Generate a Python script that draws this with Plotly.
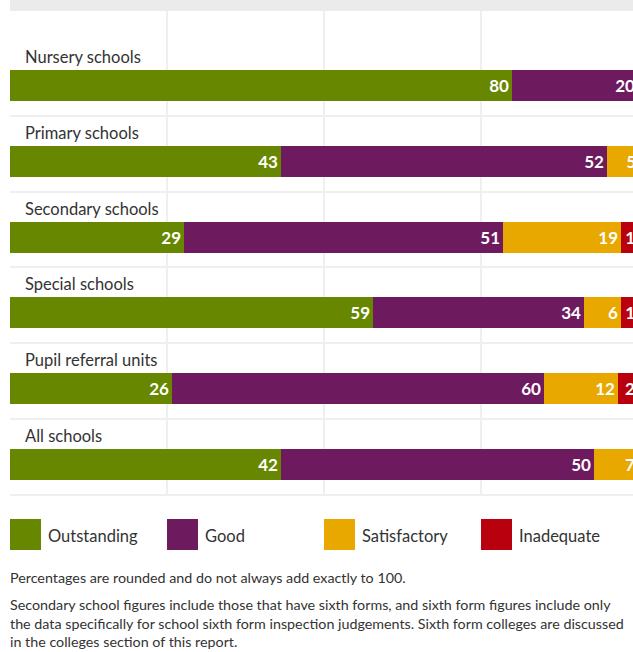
import plotly.graph_objects as go

# ---------------- data ----------------
categories = ["Nursery schools", "Primary schools", "Secondary schools",
              "Special schools", "Pupil referral units", "All schools"]
series_names = ["Outstanding", "Good", "Satisfactory", "Inadequate"]

# printed (rounded) percentages
outstanding_lbl = [80, 43, 29, 59, 26, 42]
good_lbl = [20, 52, 51, 34, 60, 50]
satisfactory_lbl = [None, 5, 19, 6, 12, 7]
inadequate_lbl = [None, None, 1, 1, 2, None]

# bar shares as drawn in the picture
outstanding_val = [80, 43.2, 27.7, 57.8, 25.8, 43.2]
good_val = [20, 51.8, 50.8, 33.6, 59.2, 49.8]
satisfactory_val = [0, 5.1, 18.8, 5.9, 11.8, 7.0]
inadequate_val = [0, 0, 2.7, 2.7, 3.2, 0]

colors = ["#678700", "#6e1a5f", "#e8a800", "#b8000e"]

footnote1 = "Percentages are rounded and do not always add exactly to 100."
footnote2 = ("Secondary school figures include those that have sixth forms, and sixth form figures include only<br>"
             "the data specifically for school sixth form inspection judgements. Sixth form colleges are discussed<br>"
             "in the colleges section of this report.")

# ---------------- layout constants ----------------
W, H = 633, 652
ML, MR, MT, MB = 10, 0, 11, 156
PW = W - ML - MR
PH = H - MT - MB
FONT = "Lato, 'Noto Sans', sans-serif"
TXT = "#333333"

def px_x(px):
    return (px - ML) / PW

def px_y(py):
    return (H - MB - py) / PH

ypos = list(range(len(categories)))
unit = 75.8
y_top = (MT - 85.5) / unit
y_bot = (H - MB - 85.5) / unit

fig = go.Figure()
vals = [outstanding_val, good_val, satisfactory_val, inadequate_val]
lbls = [outstanding_lbl, good_lbl, satisfactory_lbl, inadequate_lbl]
for name, v, l, c in zip(series_names, vals, lbls, colors):
    fig.add_trace(go.Bar(
        name=name, y=ypos, x=v, orientation="h", width=0.41,
        marker=dict(color=c, line=dict(width=0)),
        text=["" if t is None else str(t) for t in l],
        textposition="inside", insidetextanchor="end", textangle=0,
        constraintext="none", cliponaxis=True,
        textfont=dict(family=FONT, size=17, color="white", weight="bold"),
        hoverinfo="skip", showlegend=False,
    ))

annotations = []
for i, cat in enumerate(categories):
    annotations.append(dict(
        xref="paper", yref="y", x=px_x(23), y=i - 0.375, text=cat,
        xanchor="left", yanchor="middle", showarrow=False,
        font=dict(family=FONT, size=16.5, color=TXT)))

shapes = [dict(type="rect", xref="paper", yref="paper", x0=0, x1=1.01,
               y0=1, y1=px_y(0), fillcolor="#ebebeb", line=dict(width=0),
               layer="below")]

legend_x = [10, 167, 324, 481]
for name, c, lx in zip(series_names, colors, legend_x):
    shapes.append(dict(type="rect", xref="paper", yref="paper",
                       x0=px_x(lx), x1=px_x(lx + 31), y0=px_y(550), y1=px_y(519),
                       fillcolor=c, line=dict(width=0)))
    annotations.append(dict(xref="paper", yref="paper", x=px_x(lx + 36), y=px_y(535.5),
                            text=name, xanchor="left", yanchor="middle", showarrow=False,
                            font=dict(family=FONT, size=16.5, color=TXT)))

annotations.append(dict(xref="paper", yref="paper", x=px_x(8), y=px_y(577),
                        text=footnote1, xanchor="left", yanchor="middle", showarrow=False,
                        font=dict(family=FONT, size=14.3, color=TXT)))
annotations.append(dict(xref="paper", yref="paper", x=px_x(8), y=px_y(594),
                        text=footnote2, xanchor="left", yanchor="top", align="left",
                        showarrow=False,
                        font=dict(family=FONT, size=14.3, color=TXT)))

fig.update_layout(
    width=W, height=H, autosize=False,
    margin=dict(l=ML, r=MR, t=MT, b=MB, pad=0),
    barmode="stack", bargap=0,
    plot_bgcolor="white", paper_bgcolor="white",
    font=dict(family=FONT, color=TXT),
    xaxis=dict(range=[0, PW / 6.28], tickvals=[25, 50, 75], showticklabels=False,
               showgrid=True, gridcolor="#efefef", gridwidth=2, zeroline=False,
               showline=False, fixedrange=True),
    yaxis=dict(range=[y_bot, y_top], tickvals=[i + 0.4 for i in ypos],
               showticklabels=False, showgrid=True, gridcolor="#efefef", gridwidth=2,
               zeroline=False, showline=False, fixedrange=True),
    shapes=shapes, annotations=annotations, showlegend=False,
)

fig.write_html("out.html", config={"displayModeBar": False},
               post_script="document.body.style.margin='0';")
